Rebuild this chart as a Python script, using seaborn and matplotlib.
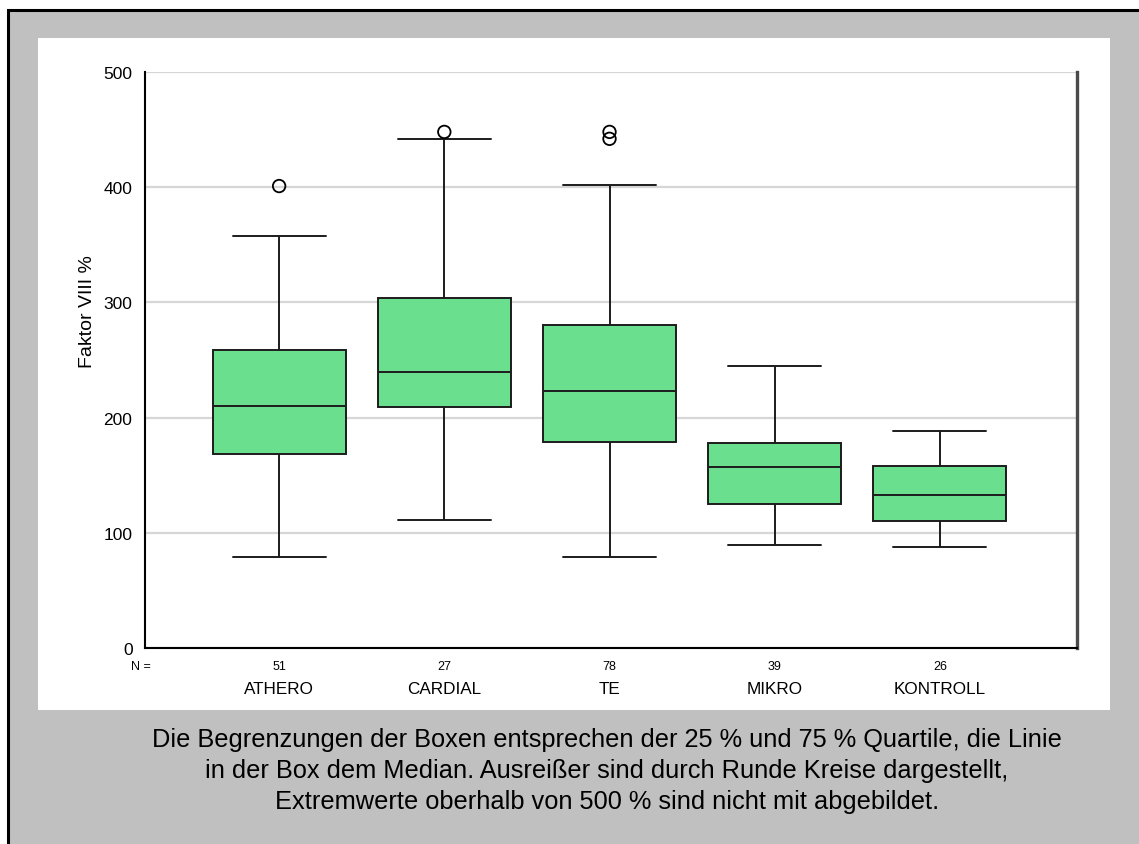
import numpy as np
import pandas as pd
import matplotlib
matplotlib.use("Agg")
import matplotlib.pyplot as plt
from matplotlib.patches import Rectangle
import seaborn as sns

# ---- data -------------------------------------------------------------
groups = ["ATHERO", "CARDIAL", "TE", "MIKRO", "KONTROLL"]
counts = [51, 27, 78, 39, 26]
whisker_low = [79, 111, 79, 89, 88]
quartile_1 = [168, 209, 179, 125, 110]
median = [210, 240, 223, 157, 133]
quartile_3 = [259, 304, 280, 178, 158]
whisker_high = [358, 442, 402, 245, 188]
outlier_groups = ["ATHERO", "CARDIAL", "TE", "TE"]
outlier_values = [401, 448, 448, 442]
y_ticks = [0, 100, 200, 300, 400, 500]

caption_lines = [
    "Die Begrenzungen der Boxen entsprechen der 25 % und 75 % Quartile, die Linie",
    "in der Box dem Median. Ausreißer sind durch Runde Kreise dargestellt,",
    "Extremwerte oberhalb von 500 % sind nicht mit abgebildet.",
]

# Long-form table whose five-number summary reproduces each box
rows = []
for g, lo, a, m, b, hi in zip(groups, whisker_low, quartile_1, median,
                              quartile_3, whisker_high):
    for v in (lo, a, a, m, b, b, hi):
        rows.append((g, v))
box_df = pd.DataFrame(rows, columns=["Gruppe", "Faktor"])
out_df = pd.DataFrame({"Gruppe": outlier_groups, "Faktor": outlier_values})

# ---- style ------------------------------------------------------------
sns.set_theme(style="white")
plt.rcParams["font.family"] = ["Liberation Sans", "DejaVu Sans"]

W, H = 1139, 845
fig = plt.figure(figsize=(W / 100, H / 100), dpi=100)
fig.patch.set_facecolor("white")

# grey frame and white plotting panel
fig.add_artist(Rectangle((7.5 / W, -0.1), 1.2, (H - 11) / H + 0.1,
                         transform=fig.transFigure, facecolor="#C0C0C0",
                         edgecolor="black", linewidth=2.2, zorder=-3))
fig.add_artist(Rectangle((38 / W, (H - 711) / H), (1110 - 38) / W, (711 - 39) / H,
                         transform=fig.transFigure, facecolor="white",
                         edgecolor="none", zorder=-2))

ax = fig.add_axes([145 / W, (H - 649) / H, (1077 - 145) / W, (649 - 73) / H])
ax.set_facecolor("none")

green = "#6AE08E"
sns.boxplot(data=box_df, x="Gruppe", y="Faktor", order=groups, color=green,
            saturation=1, width=0.805, whis=(0, 100), showfliers=False,
            linecolor="#1c1c1c", linewidth=1.4, capwidths=0.563, ax=ax)

sns.stripplot(data=out_df, x="Gruppe", y="Faktor", order=groups, jitter=False,
              color="white", edgecolor="black", linewidth=1.3, size=9,
              ax=ax, zorder=5)
for coll in ax.collections:
    coll.set_facecolor("none")

ax.set_xlim(-0.812, 4.83)
ax.set_ylim(0, 500)
ax.set_yticks(y_ticks)
ax.set_yticklabels([str(t) for t in y_ticks], fontsize=12.5, color="black")
ax.tick_params(axis="y", length=0, pad=9)
ax.tick_params(axis="x", length=0, labelbottom=False)
ax.set_xlabel("")
ax.set_ylabel("Faktor VIII %", fontsize=14, color="black")
ax.yaxis.set_label_coords(-0.0526, 0.585)

ax.yaxis.grid(True, color="#d6d6d6", linewidth=1.6)
ax.xaxis.grid(False)
ax.set_axisbelow(True)

for side in ("left", "bottom"):
    ax.spines[side].set_color("black")
    ax.spines[side].set_linewidth(1.5)
ax.spines["top"].set_visible(False)
ax.spines["right"].set_color("#4a4a4a")
ax.spines["right"].set_linewidth(2.4)

# counts and group names under the axis
tr = ax.get_xaxis_transform()
for i, (g, n) in enumerate(zip(groups, counts)):
    ax.text(i, -0.0365, str(n), transform=tr, ha="center", va="baseline",
            fontsize=9, color="black")
    ax.text(i, -0.0787, g, transform=tr, ha="center", va="baseline",
            fontsize=12.3, color="black")
fig.text(141 / W, 1 - 670 / H, "N =", ha="center", va="baseline",
         fontsize=9, color="black")

# explanatory caption
for line, base in zip(caption_lines, (746.7, 778.3, 809.0)):
    fig.text(607 / W, 1 - base / H, line, ha="center", va="baseline",
             fontsize=18.3, color="black")

fig.savefig("out.png", dpi=100)
